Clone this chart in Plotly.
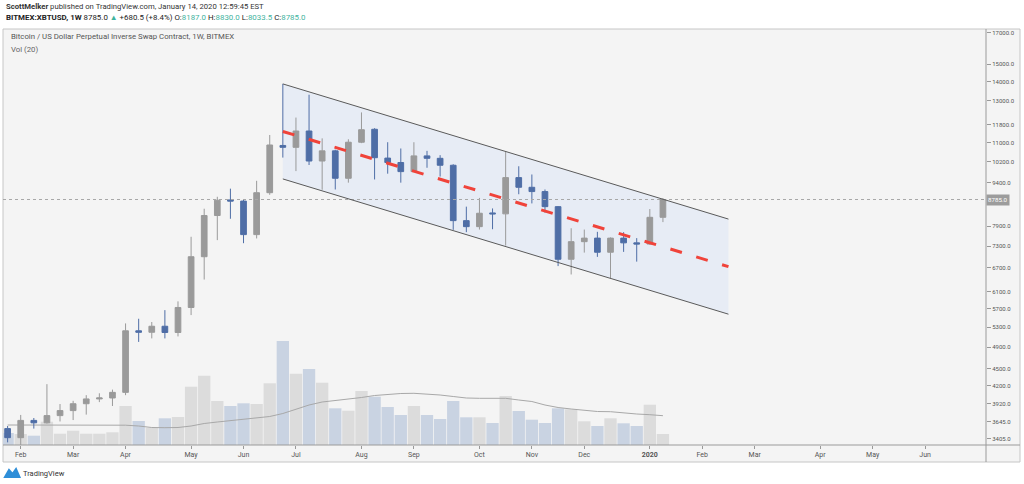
import numpy as np
import pandas as pd
import plotly.graph_objects as go

# ---------------- data (weekly BITMEX:XBTUSD) ----------------
start_week = "2019-01-28"
opens  = [3548, 3423, 3665, 3630, 3735, 3810, 3915, 3990, 4005, 4095,
          5225, 5195, 5320, 5190, 5730, 7005, 8245, 8770, 8730, 7645,
          9025, 10880, 10800, 11520, 10230, 10650, 9555, 11020, 11600, 10350,
          10170, 9810, 10440, 10340, 10060, 8080, 7890, 8330, 8300, 9580,
          9220, 9065, 8540, 6935, 7435, 7540, 7130, 7540, 7400, 7365, 8187]
highs  = [3585, 3745, 3700, 4230, 3910, 3960, 4050, 4080, 4140, 5380,
          5480, 5410, 5670, 5870, 7580, 8470, 8880, 9170, 8770, 9460,
          11340, 13880, 12150, 13300, 11190, 10700, 11150, 12400, 11650, 11020,
          10750, 11020, 10650, 10470, 10100, 8540, 8840, 8480, 10620, 10020,
          9700, 9140, 8560, 7840, 7800, 7730, 7560, 7720, 7540, 8460, 8830]
lows   = [3360, 3325, 3548, 3620, 3650, 3670, 3750, 3940, 3880, 4050,
          5000, 5070, 5070, 5110, 5560, 6400, 7480, 8140, 7390, 7530,
          8950, 10370, 9830, 10070, 9130, 9140, 9390, 10980, 9510, 9730,
          9390, 9800, 9960, 9620, 7790, 7720, 7800, 7810, 7320, 8970,
          8650, 8340, 6750, 6530, 7120, 7000, 6430, 7140, 6870, 7350, 8033.5]
closes = [3423, 3665, 3630, 3735, 3810, 3915, 3990, 4005, 4095, 5225,
          5195, 5320, 5190, 5730, 7005, 8245, 8760, 8730, 7645, 9025,
          10900, 10800, 11520, 10230, 10650, 9555, 11020, 11580, 10365, 10170,
          9810, 10440, 10340, 10060, 8080, 7890, 8320, 8300, 9580, 9220,
          9065, 8540, 6935, 7435, 7540, 7130, 7540, 7400, 7365, 8187, 8785]
volumes = [12, 11, 9.3, 23.3, 11.3, 14.3, 11.3, 11.3, 12.7, 39,
           24, 17.3, 26.7, 28, 58.3, 69.3, 44, 39, 41.7, 41,
           61.7, 104, 71.3, 76, 62.3, 36.7, 34.3, 54, 48.3, 38,
           30, 39, 30, 26, 44, 27.7, 27.7, 22, 49, 34,
           25.3, 22, 36.7, 35.7, 23.7, 19, 26.7, 21.7, 19, 40.3, 11]
vol_ma20 = [20, 20, 20, 20, 20, 20, 20, 20, 20, 19.8,
            19, 17.5, 17.3, 17.5, 19, 21.5, 23, 24.5, 25.5, 26.8,
            28.5, 31.5, 36, 40, 43, 44.5, 45.5, 47.5, 49.5, 50.5,
            51.5, 51.7, 51, 50, 48.5, 47, 46.7, 46.7, 46.7, 45,
            43.5, 40, 37.5, 36, 34.5, 33.5, 33.3, 32, 31, 30.3, 29.3]

channel_dates = ["2019-06-24", "2020-02-17"]
channel_upper = [13880, 8130]
channel_mid = [11500, 6735]
channel_lower = [9530, 5580]
last_price = 8785

price_ticks = [17000, 15000, 14000, 13000, 11800, 11000, 10200, 9400, 7900, 7300,
               6700, 6100, 5700, 5300, 4900, 4500, 4200, 3920, 3645, 3405]
month_ticks = ["2019-02-04", "2019-03-04", "2019-04-01", "2019-05-06", "2019-06-03",
               "2019-07-01", "2019-08-05", "2019-09-02", "2019-10-07", "2019-11-04",
               "2019-12-02", "2020-01-06", "2020-02-03", "2020-03-02", "2020-04-06",
               "2020-05-04", "2020-06-01"]
month_labels = ["Feb", "Mar", "Apr", "May", "Jun", "Jul", "Aug", "Sep", "Oct", "Nov",
                "Dec", "<b>2020</b>", "Feb", "Mar", "Apr", "May", "Jun"]

# ---------------- layout geometry (pixels) ----------------
W, H = 1024, 484
PL, PR, PT, PB = 3, 986, 29, 445


def pxx(x):
    return (x - PL) / (PR - PL)


def pyy(y):
    return (PB - y) / (PB - PT)


FONT = "Roboto, Arial, sans-serif"
UP_C = "#9a9a9a"
DN_C = "#4f6ea6"
TEAL = "#3fb39e"

dates = pd.date_range(start_week, periods=len(opens), freq="7D")
is_up = [c >= o for o, c in zip(opens, closes)]
x_start = pd.Timestamp(start_week) - pd.Timedelta(days=2.46)
x_end = pd.Timestamp(start_week) + pd.Timedelta(days=522.55)
price_range = [np.log10(3325), np.log10(17250)]

fig = go.Figure()

# channel fill on the base (hidden) log axis "y" so it sits under everything else
cx = [channel_dates[0], channel_dates[1], channel_dates[1], channel_dates[0], channel_dates[0]]
cy = [channel_upper[0], channel_upper[1], channel_lower[1], channel_lower[0], channel_upper[0]]
fig.add_trace(go.Scatter(x=cx, y=cy, xaxis="x", yaxis="y", mode="lines", fill="toself",
                         fillcolor="#e7ecf5", line=dict(width=0), hoverinfo="skip", showlegend=False))

# volume (hidden linear axis y2)
fig.add_trace(go.Bar(
    x=dates, y=volumes, xaxis="x", yaxis="y2",
    marker=dict(color=["#dcdcdc" if u else "#c9d3e2" for u in is_up], line=dict(width=0)),
    hoverinfo="skip", showlegend=False))
fig.add_trace(go.Scatter(
    x=dates, y=vol_ma20, xaxis="x", yaxis="y2", mode="lines",
    line=dict(color="#a8a8a8", width=1), hoverinfo="skip", showlegend=False))

# candles (visible log price axis y3)
fig.add_trace(go.Candlestick(
    x=dates, open=opens, high=highs, low=lows, close=closes, xaxis="x", yaxis="y3",
    increasing=dict(line=dict(color=UP_C, width=1), fillcolor=UP_C),
    decreasing=dict(line=dict(color=DN_C, width=1), fillcolor=DN_C),
    whiskerwidth=0, hoverinfo="skip", showlegend=False))

# last price dotted line
fig.add_trace(go.Scatter(x=[x_start, x_end], y=[last_price, last_price], xaxis="x", yaxis="y3",
                         mode="lines", line=dict(color="#a8a8a8", width=1, dash="dot"),
                         hoverinfo="skip", showlegend=False))
# channel borders and midline
for yy in (channel_upper, channel_lower):
    fig.add_trace(go.Scatter(x=channel_dates, y=yy, xaxis="x", yaxis="y3", mode="lines",
                             line=dict(color="#5a5a5a", width=1), hoverinfo="skip", showlegend=False))
fig.add_trace(go.Scatter(x=channel_dates, y=channel_mid, xaxis="x", yaxis="y3", mode="lines",
                         line=dict(color="#f0433a", width=3, dash="12px,15px"),
                         hoverinfo="skip", showlegend=False))

shapes = [
    dict(type="rect", xref="paper", yref="paper", x0=pxx(3), x1=pxx(1020), y0=pyy(462), y1=pyy(29),
         fillcolor="#f4f4f4", line=dict(color="#c6c6c6", width=1), layer="below"),
    dict(type="line", xref="paper", yref="paper", x0=pxx(3), x1=pxx(1020), y0=0, y1=0,
         line=dict(color="#9a9a9a", width=1)),
    dict(type="line", xref="paper", yref="paper", x0=1, x1=1, y0=pyy(462), y1=pyy(29),
         line=dict(color="#9a9a9a", width=1)),
    # TradingView cloud logo
    dict(type="path", xref="paper", yref="paper",
         path="M {},{} L {},{} L {},{} L {},{} L {},{} Z".format(
             pxx(5), pyy(477), pxx(9), pyy(470), pxx(12.5), pyy(474), pxx(16), pyy(469),
             pxx(19.5), pyy(477)),
         fillcolor="#2f8ed8", line=dict(color="#2f8ed8", width=2)),
]

annotations = [
    dict(xref="paper", yref="paper", x=pxx(4), y=pyy(7), xanchor="left", yanchor="middle",
         showarrow=False, font=dict(family=FONT, size=7.7, color="#333"),
         text="<b>ScottMelker</b> published on TradingView.com, January 14, 2020 12:59:45 EST"),
    dict(xref="paper", yref="paper", x=pxx(4), y=pyy(17.5), xanchor="left", yanchor="middle",
         showarrow=False, font=dict(family=FONT, size=7.9, color="#222"),
         text=("<b>BITMEX:XBTUSD, 1W</b> 8785.0 <span style='color:%s'>▲</span> +680.5 (+8.4%%) "
               "O:<span style='color:%s'>8187.0</span> H:<span style='color:%s'>8830.0</span> "
               "L:<span style='color:%s'>8033.5</span> C:<span style='color:%s'>8785.0</span>")
         % (TEAL, TEAL, TEAL, TEAL, TEAL)),
    dict(xref="paper", yref="paper", x=pxx(9), y=pyy(36), xanchor="left", yanchor="middle",
         showarrow=False, font=dict(family=FONT, size=7.8, color="#555"),
         text="Bitcoin / US Dollar Perpetual Inverse Swap Contract, 1W, BITMEX"),
    dict(xref="paper", yref="paper", x=pxx(9), y=pyy(49), xanchor="left", yanchor="middle",
         showarrow=False, font=dict(family=FONT, size=7.8, color="#666"), text="Vol (20)"),
    dict(xref="paper", yref="y3", x=1, y=np.log10(last_price), xanchor="left", yanchor="middle",
         showarrow=False, bgcolor="#9c9c9c", borderpad=1,
         font=dict(family=FONT, size=6.2, color="#ffffff"), text="8785.0"),
    dict(xref="paper", yref="paper", x=pxx(21), y=pyy(473), xanchor="left", yanchor="middle",
         showarrow=False, font=dict(family=FONT, size=7.5, color="#333"), text="TradingView"),
]

fig.update_layout(
    width=W, height=H,
    margin=dict(l=PL, r=W - PR, t=PT, b=H - PB, pad=0),
    paper_bgcolor="#ffffff", plot_bgcolor="#f4f4f4",
    showlegend=False, bargap=0.06, boxgap=0.38,
    shapes=shapes, annotations=annotations,
    xaxis=dict(type="date", range=[x_start, x_end], tickvals=month_ticks, ticktext=month_labels,
               ticks="outside", ticklen=3, tickcolor="#999", showgrid=False, zeroline=False,
               showline=False, rangeslider=dict(visible=False),
               tickfont=dict(family=FONT, size=7, color="#555")),
    yaxis=dict(type="log", range=price_range, visible=False, showgrid=False, fixedrange=True),
    yaxis2=dict(range=[0, max(volumes) * 4.0], overlaying="y", visible=False, showgrid=False,
                fixedrange=True),
    yaxis3=dict(type="log", overlaying="y", side="right", anchor="x", range=price_range,
                tickvals=price_ticks, ticktext=["%.1f" % v for v in price_ticks],
                ticks="outside", ticklen=4, tickcolor="#999", showgrid=False, zeroline=False,
                showline=False, tickfont=dict(family=FONT, size=6, color="#555")),
)

fig.write_html("out.html", config={"displayModeBar": False},
               post_script="document.body.style.margin='0';")
